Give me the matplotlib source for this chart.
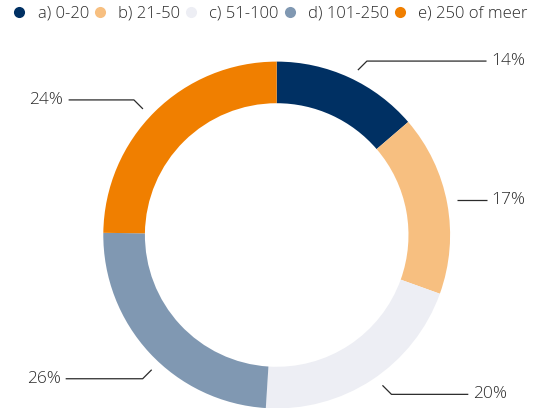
import numpy as np
import matplotlib.pyplot as plt
from matplotlib.lines import Line2D

plt.rcParams['font.family'] = ['Open Sans', 'DejaVu Sans']
plt.rcParams['font.weight'] = 'light'

categories = ["a) 0-20", "b) 21-50", "c) 51-100", "d) 101-250", "e) 250 of meer"]
shares = [13.7, 16.8, 20.5, 24.2, 24.8]
share_labels = ["14%", "17%", "20%", "26%", "24%"]
colors = ["#003063", "#f7bf80", "#edeef4", "#8098b2", "#f07f00"]

# label placement (data units, ring radius = 1)
label_x = [1.21, 1.21, 1.105, -1.217, -1.20]
label_y = [1.003, 0.202, -0.919, -0.829, 0.779]
use_elbow = [True, False, True, True, True]

fig = plt.figure(figsize=(5.44, 4.08), dpi=100)
ax = fig.add_axes([0, 0, 1, 1])

wedges, _ = ax.pie(shares, colors=colors, startangle=90, counterclock=False,
                   radius=1.0, wedgeprops=dict(width=0.24, linewidth=0))

ink = "#2b2b2b"
diag = 0.052
r0 = 1.06
for w, txt, lx, ly, elbow in zip(wedges, share_labels, label_x, label_y, use_elbow):
    mid = np.deg2rad((w.theta1 + w.theta2) / 2)
    side = np.sign(np.cos(mid))
    if elbow:
        ys = ly - diag * np.sign(ly)
        xs = side * np.sqrt(r0 ** 2 - ys ** 2)
        ax.plot([xs, xs + side * diag, lx], [ys, ly, ly], color=ink, lw=0.9,
                solid_capstyle='butt')
    else:
        xs = side * np.sqrt(r0 ** 2 - ly ** 2)
        ax.plot([xs, lx], [ly, ly], color=ink, lw=0.9, solid_capstyle='butt')
    if lx > 0:
        ax.text(lx + 0.025, ly, txt, ha='left', va='center', fontsize=12.5, color=ink)
    else:
        ax.text(lx - 0.03, ly, txt, ha='right', va='center', fontsize=12.5, color=ink)

cx, cy, r = 276.7, 235.0, 173.4
ax.set_xlim(-cx / r, (544 - cx) / r)
ax.set_ylim(-(408 - cy) / r, cy / r)
ax.set_aspect('auto')
ax.axis('off')

handles = [Line2D([], [], marker='o', linestyle='', markersize=8,
                  markerfacecolor=c, markeredgewidth=0) for c in colors]
fig.legend(handles, categories, loc='center', bbox_to_anchor=(0.495, 0.966),
           ncol=5, frameon=False, fontsize=12, handletextpad=0.6,
           columnspacing=0.15, handlelength=1.0, labelcolor=ink)

fig.savefig("out.png", dpi=100)
